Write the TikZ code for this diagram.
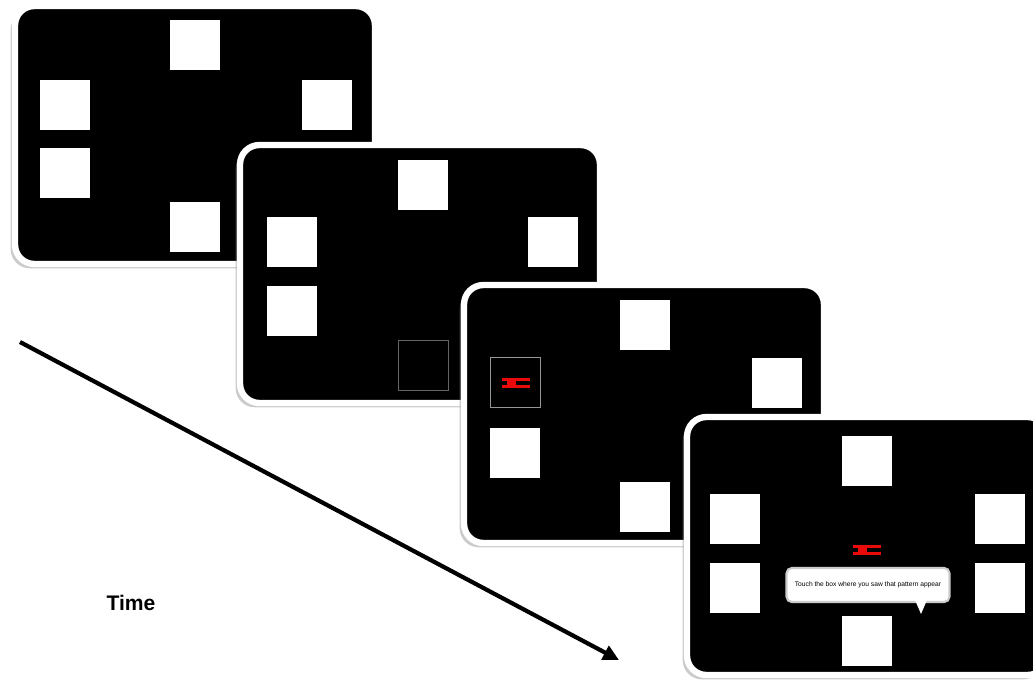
\documentclass[tikz,border=0pt]{standalone}
\usepackage{fontspec}
\setmainfont{Liberation Sans}
\usepackage{tikz}
\usetikzlibrary{arrows.meta, shadows, calc}
\definecolor{cuered}{RGB}{235,10,10}
\definecolor{rimgrey}{RGB}{100,100,100}
\definecolor{cuerim}{RGB}{150,150,150}
\newcommand{\cue}[1]{%
  \fill[cuered] (#1) rectangle ++(28,3);
  \fill[cuered] ($(#1)+(0,7)$) rectangle ++(28,3);
  \fill[cuered] ($(#1)+(5,0)$) rectangle ++(9,10);}

\begin{document}
\begin{tikzpicture}[x=0.02cm, y=-0.02cm,
  screen/.style={draw=white, fill=black, line width=3.6pt, rounded corners=11pt,
    minimum width=7.2cm, minimum height=5.16cm, inner sep=0pt,
    drop shadow={shadow xshift=-2.5pt, shadow yshift=-2.5pt, fill=black!45, opacity=.45}},
  tgt/.style={fill=white, minimum size=1cm, inner sep=0pt, anchor=north west},
  hollow/.style={draw=rimgrey, line width=.5pt, minimum size=1cm, inner sep=0pt, anchor=north west}]
\useasboundingbox (0,0) rectangle (1033,682);
\clip (0,0) rectangle (1033,682);

\node[screen] (scr1) at (195,135) {};
\node[tgt] (s1top) at (170,20) {};
\node[tgt] (s1left) at (40,80) {};
\node[tgt] (s1right) at (302,80) {};
\node[tgt] (s1lowleft) at (40,148) {};
\node[tgt] (s1bottom) at (170,202) {};

\node[screen] (scr2) at (420,274) {};
\node[tgt] (s2top) at (398,160) {};
\node[tgt] (s2left) at (267,217) {};
\node[tgt] (s2right) at (528,217) {};
\node[tgt] (s2lowleft) at (267,286) {};
\node[hollow] (s2bottom) at (398,340) {};

\node[screen] (scr3) at (644,414) {};
\node[tgt] (s3top) at (620,300) {};
\node[hollow, draw=cuerim] (s3cue) at (490,357) {};
\node[tgt] (s3right) at (752,358) {};
\node[tgt] (s3lowleft) at (490,428) {};
\node[tgt] (s3bottom) at (620,482) {};
\cue{502,378}

\node[screen] (scr4) at (867,546) {};
\node[tgt] (s4top) at (842,436) {};
\node[tgt] (s4left) at (710,494) {};
\node[tgt] (s4right) at (975,494) {};
\node[tgt] (s4lowleft) at (710,563) {};
\node[tgt] (s4lowright) at (975,563) {};
\node[tgt] (s4bottom) at (842,616) {};
\cue{853,545}

\node[draw=black!20, line width=1.2pt, fill=white, rounded corners=3pt, minimum width=3.26cm, minimum height=0.68cm,
  font=\fontsize{3.8}{4.5}\selectfont] (prompt) at (868,585) {Touch the box where you saw that pattern appear};
\fill[white] (915,600) -- (927,600) -- (921,614) -- cycle;

\coordinate (t0) at (20,342);
\coordinate (t1) at (619,660);
\draw[-{Triangle[length=9pt, width=8.5pt]}, line width=2.4pt] (t0) -- (t1);
\node[font=\bfseries\fontsize{12}{14}\selectfont] (time) at (131,603) {Time};
\end{tikzpicture}
\end{document}
